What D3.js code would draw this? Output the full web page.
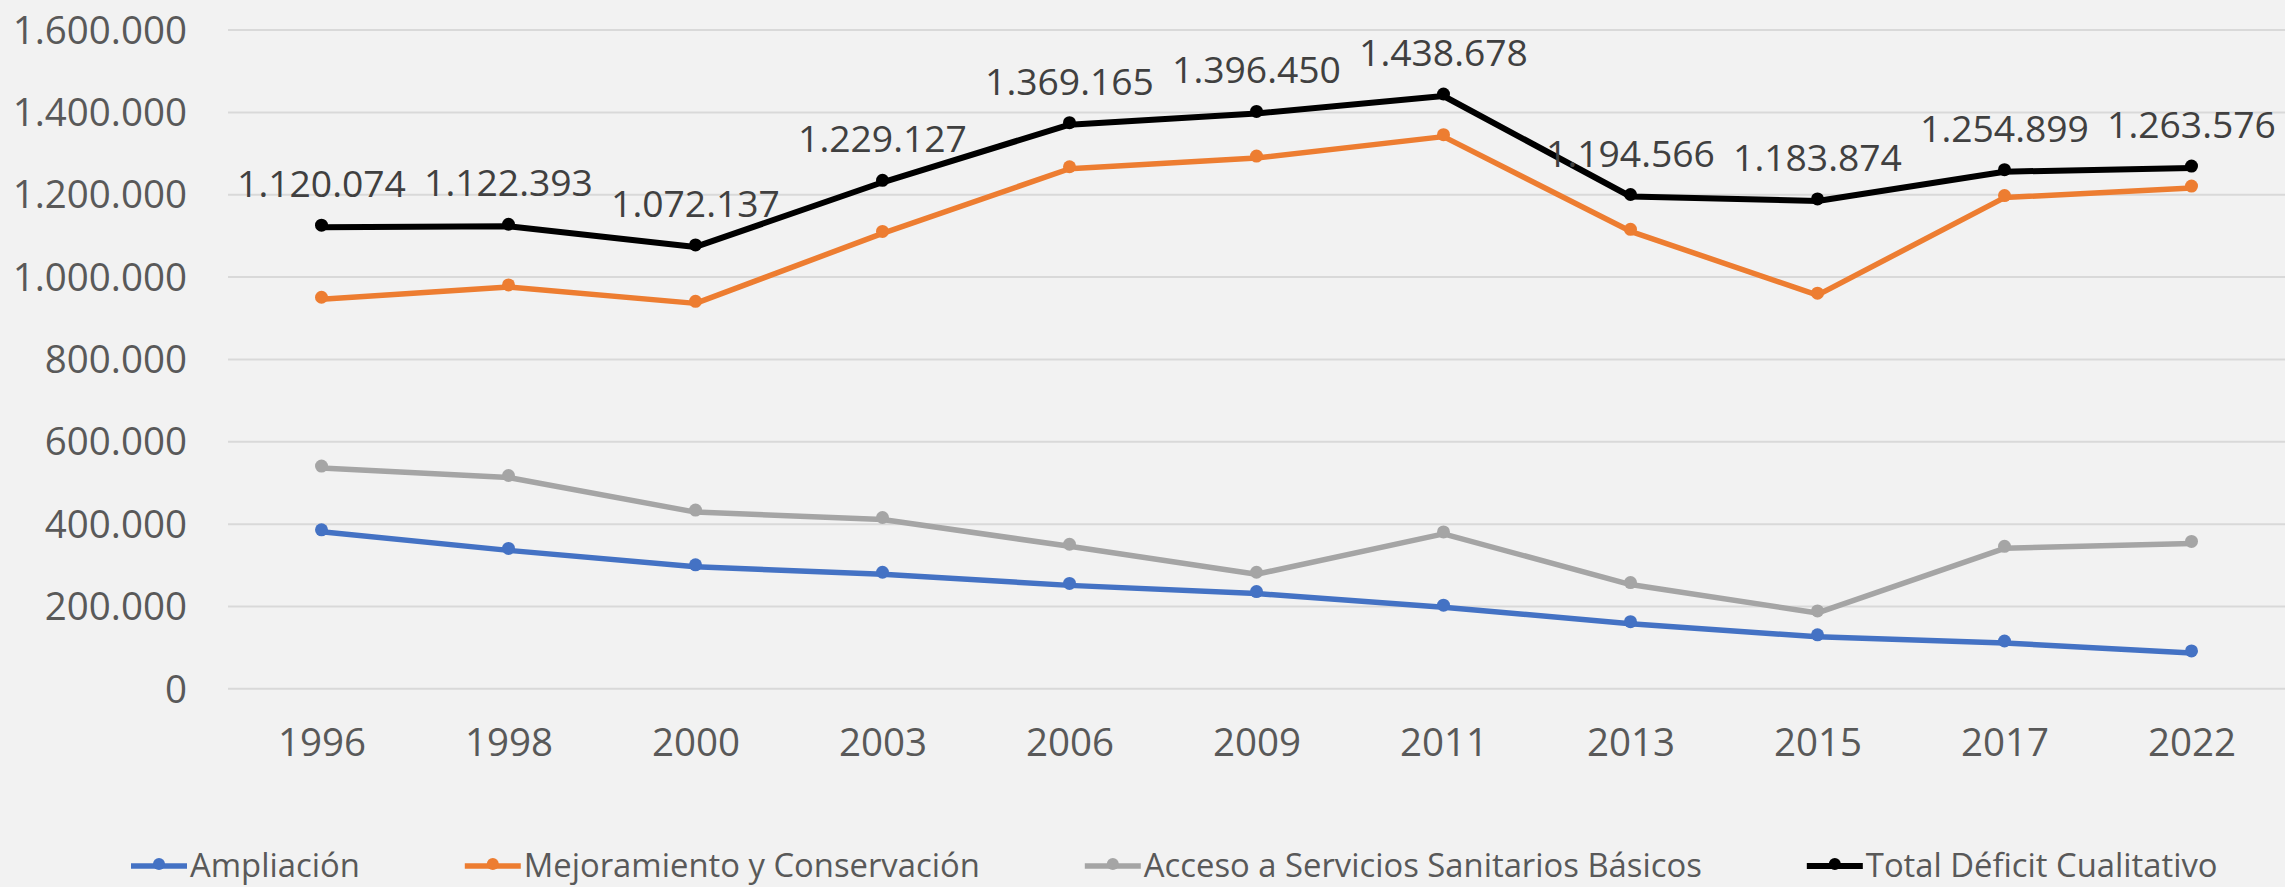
<!DOCTYPE html>
<html>
<head>
<meta charset="utf-8">
<script src="https://cdn.jsdelivr.net/npm/d3@7"></script>
<style>
  html, body { margin: 0; padding: 0; background: #f2f2f2; }
  svg { display: block; font-family: "Open Sans", sans-serif; }
</style>
</head>
<body>
<div id="chart"></div>
<script>
// data
var years = ["1996", "1998", "2000", "2003", "2006", "2009", "2011", "2013", "2015", "2017", "2022"];
var ampliacion   = [380000, 335000, 295000, 277000, 250000, 230000, 197000, 157000, 125000, 110000, 86000];
var mejoramiento = [945000, 975000, 935000, 1105000, 1262000, 1288000, 1340000, 1110000, 955000, 1192000, 1215000];
var acceso       = [535000, 512000, 428000, 410000, 345000, 277000, 375000, 252000, 183000, 340000, 352000];
var total        = [1120074, 1122393, 1072137, 1229127, 1369165, 1396450, 1438678, 1194566, 1183874, 1254899, 1263576];
var yTicks = [0, 200000, 400000, 600000, 800000, 1000000, 1200000, 1400000, 1600000];

var series = [
  {name: "Ampliación", values: ampliacion, color: "#4472c4", w: 5.5},
  {name: "Mejoramiento y Conservación", values: mejoramiento, color: "#ed7d31", w: 5.5},
  {name: "Acceso a Servicios Sanitarios Básicos", values: acceso, color: "#a5a5a5", w: 5.5},
  {name: "Total Déficit Cualitativo", values: total, color: "#000000", w: 6, labels: true}
];

var width = 2285, height = 887;
var plotLeft = 228, plotRight = 2285, plotTop = 29.6, plotBottom = 688.3;

var fmt = d3.formatLocale({decimal: ",", thousands: ".", grouping: [3], currency: ["", ""]}).format(",d");

var svg = d3.select("#chart").append("svg")
  .attr("width", width)
  .attr("height", height);

svg.append("rect").attr("width", width).attr("height", height).attr("fill", "#f2f2f2");

var x = d3.scalePoint().domain(years).range([plotLeft, plotRight]).padding(0.5);
var y = d3.scaleLinear().domain([0, 1600000]).range([plotBottom, plotTop]);

// gridlines + y labels
var yAxis = d3.axisLeft(y).tickValues(yTicks).tickSize(-(plotRight - plotLeft)).tickPadding(41).tickFormat(fmt);
var gy = svg.append("g").attr("transform", "translate(" + plotLeft + ",0)").call(yAxis);
gy.select(".domain").remove();
gy.selectAll(".tick line").attr("stroke", "#d9d9d9").attr("stroke-width", 2);
gy.selectAll(".tick text")
  .attr("fill", "#595959")
  .attr("font-size", 38.5)
  .attr("font-family", "Open Sans")
  .attr("dy", null)
  .attr("y", 13.7);

// x labels
var xAxis = d3.axisBottom(x).tickSize(0).tickPadding(0);
var gx = svg.append("g").attr("transform", "translate(0," + plotBottom + ")").call(xAxis);
gx.select(".domain").remove();
gx.selectAll(".tick text")
  .attr("fill", "#595959")
  .attr("font-size", 38.5)
  .attr("font-family", "Open Sans")
  .attr("dy", null)
  .attr("y", 67.7);

var line = d3.line()
  .x(function(d, i) { return x(years[i]); })
  .y(function(d) { return y(d); });

series.forEach(function(s) {
  var g = svg.append("g");
  g.append("path")
    .datum(s.values)
    .attr("d", line)
    .attr("fill", "none")
    .attr("stroke", s.color)
    .attr("stroke-width", s.w)
    .attr("stroke-linejoin", "round")
    .attr("stroke-linecap", "round");
  g.selectAll("circle")
    .data(s.values)
    .enter().append("circle")
    .attr("cx", function(d, i) { return x(years[i]); })
    .attr("cy", function(d) { return y(d) - 2; })
    .attr("r", 6.5)
    .attr("fill", s.color);
  if (s.labels) {
    g.selectAll("text")
      .data(s.values)
      .enter().append("text")
      .attr("x", function(d, i) { return x(years[i]); })
      .attr("y", function(d) { return y(d) - 30; })
      .attr("text-anchor", "middle")
      .attr("font-size", 37.3)
      .attr("fill", "#404040")
      .text(function(d) { return fmt(d); });
  }
});

// legend
var legend = svg.append("g");
var lx = 131, ly = 866;
series.forEach(function(s) {
  var item = legend.append("g").attr("transform", "translate(" + lx + "," + ly + ")");
  item.append("line")
    .attr("x1", 0).attr("x2", 56)
    .attr("stroke", s.color).attr("stroke-width", s.w);
  item.append("circle")
    .attr("cx", 28).attr("cy", -2).attr("r", 6)
    .attr("fill", s.color);
  var t = item.append("text")
    .attr("x", 59).attr("y", 10.5)
    .attr("font-size", 32.8)
    .attr("fill", "#595959")
    .text(s.name);
  lx += 59 + t.node().getComputedTextLength() + 105;
});
</script>
</body>
</html>
